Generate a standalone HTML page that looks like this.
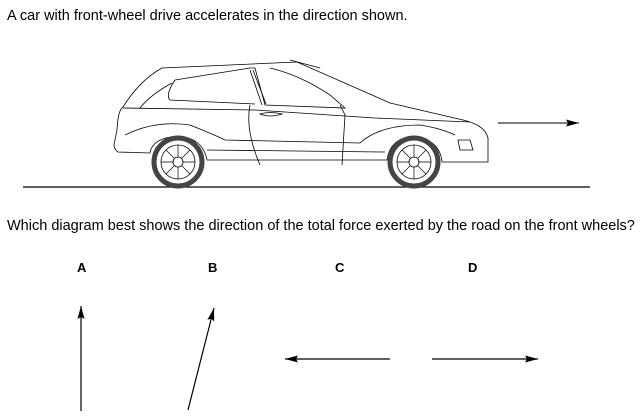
<!DOCTYPE html>
<html><head><style>
body{margin:0;background:#fff;width:643px;height:419px;overflow:hidden;font-family:"Liberation Sans",Arial,sans-serif;}
.t{position:absolute;font-size:14.5px;color:#000;white-space:nowrap}
.l{position:absolute;font-size:13px;font-weight:bold}
</style></head><body>
<div class="t" style="left:7px;top:8px">A car with front-wheel drive accelerates in the direction shown.</div>
<div class="t" style="left:7px;top:218px">Which diagram best shows the direction of the total force exerted by the road on the front wheels?</div>
<div class="l" style="left:77px;top:260px">A</div>
<div class="l" style="left:208px;top:260px">B</div>
<div class="l" style="left:335px;top:260px">C</div>
<div class="l" style="left:468px;top:260px">D</div>
<svg width="643" height="419" style="position:absolute;left:0;top:0" fill="none" stroke="#000">
<defs><marker id="a" markerWidth="13" markerHeight="7" refX="13" refY="3.5" orient="auto" markerUnits="userSpaceOnUse" viewBox="0 0 13 7"><path d="M0,0L13,3.5L0,7L2,3.5z" fill="#000" stroke="none"/></marker></defs>
<line x1="23" y1="187" x2="590" y2="187" stroke-width="1.2"/>
<line x1="498" y1="123" x2="579" y2="123" marker-end="url(#a)"/>
<line x1="81" y1="411" x2="81" y2="306" stroke-width="1.2" marker-end="url(#a)"/>
<line x1="188" y1="410" x2="214" y2="308" stroke-width="1.2" marker-end="url(#a)"/>
<line x1="390" y1="359" x2="285" y2="359" stroke-width="1.2" marker-end="url(#a)"/>
<line x1="432" y1="359" x2="538" y2="359" stroke-width="1.2" marker-end="url(#a)"/>
<g stroke-width="0.8">
<path d="M162,68 L297,62 L390,103 L463,120 Q485,125 488,138 L488,162 L442,162 Q440,140 414,136 Q390,138 387,160 L207,160 Q203,138 178,136 Q152,138 150,153 L118,152 Q112,148 115,140 L117,130 Q118,110 123,107 Q140,80 162,68 Z"/>
<path d="M172,83 Q150,95 140,108"/>
<path d="M175,80 L250,68 L255,68 L265,105 L345,108 L330,95 Q300,75 270,68"/>
<path d="M250,70 L262,105 M253,70 L266,104"/>
<path d="M175,80 Q165,95 170,100 L255,104"/>
<path d="M123,108 L255,110 L375,118 L470,122"/>
<path d="M250,105 Q245,130 260,165"/>
<path d="M340,105 L345,115 L342,165"/>
<path d="M125,135 Q155,120 190,125 Q215,135 225,140 L360,143 Q380,125 420,125 Q440,128 455,135"/>
<path d="M207,150 L385,152"/>
<path d="M290,60 L320,68"/>
<path d="M458,140 L470,140 L473,150 L460,150 Z"/>
<path d="M260,114 Q270,111 282,114 Q270,118 260,114 Z"/>
</g>
<g>
<circle cx="178" cy="162" r="24" stroke-width="5" stroke="#444"/>
<circle cx="178" cy="162" r="17" stroke-width="0.8"/>
<circle cx="178" cy="162" r="5" stroke-width="0.8"/>
<circle cx="414" cy="162" r="24" stroke-width="5" stroke="#444"/>
<circle cx="414" cy="162" r="17" stroke-width="0.8"/>
<circle cx="414" cy="162" r="5" stroke-width="0.8"/>
<path stroke-width="0.7" d="M178,145V157M178,167V179M161,162H173M183,162H195M166,150L174,158M182,166L190,174M190,150L182,158M174,166L166,174"/>
<path stroke-width="0.7" d="M414,145V157M414,167V179M397,162H409M419,162H431M402,150L410,158M418,166L426,174M426,150L418,158M410,166L402,174"/>
</g>
</svg>
</body></html>
